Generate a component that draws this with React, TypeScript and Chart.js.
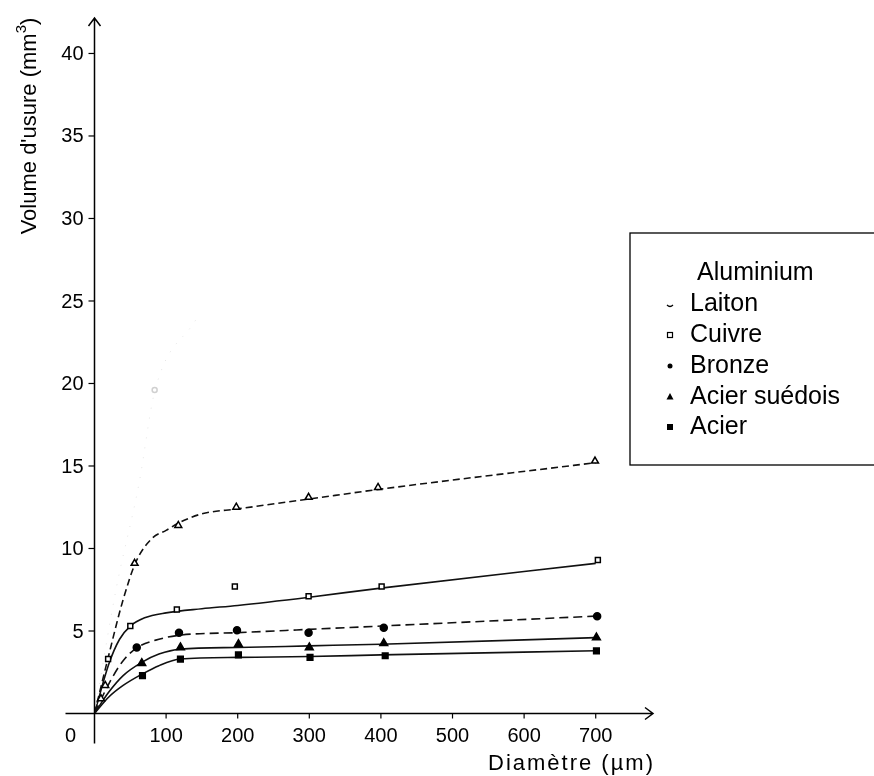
import React, { useEffect, useRef } from "react";
import { Chart, registerables } from "chart.js";

Chart.register(...registerables);

// ---- data ----
const xTickLabels = [100, 200, 300, 400, 500, 600, 700];
const yTickLabels = [5, 10, 15, 20, 25, 30, 35, 40];
const legendNames = ["Aluminium", "Laiton", "Cuivre", "Bronze", "Acier suédois", "Acier"];

// fitted curves
const aluminiumCurveX = [0, 30, 62, 84, 142];
const aluminiumCurveY = [0, 7.5, 13.9, 19.5, 23.9];
const laitonCurveX = [0, 18, 40, 58, 80, 100, 120, 150, 200, 300, 400, 700];
const laitonCurveY = [0, 3.2, 6.9, 9.2, 10.6, 11.1, 11.6, 12.1, 12.4, 13.0, 13.6, 15.2];
const cuivreCurveX = [0, 20, 35, 50, 70, 100, 150, 200, 300, 400, 700];
const cuivreCurveY = [0, 3.0, 4.5, 5.3, 5.8, 6.1, 6.35, 6.55, 7.05, 7.6, 9.1];
const bronzeCurveX = [0, 20, 40, 60, 90, 120, 200, 300, 400, 700];
const bronzeCurveY = [0, 1.8, 3.2, 4.0, 4.5, 4.75, 4.9, 5.1, 5.3, 5.9];
const suedoisCurveX = [0, 20, 40, 66, 90, 120, 200, 300, 400, 700];
const suedoisCurveY = [0, 1.3, 2.3, 3.1, 3.6, 3.9, 4.0, 4.1, 4.2, 4.6];
const acierCurveX = [0, 20, 40, 67, 90, 120, 200, 300, 400, 700];
const acierCurveY = [0, 1.0, 1.7, 2.4, 2.9, 3.3, 3.4, 3.45, 3.55, 3.8];

// measured points
const aluminiumPtX = [84];
const aluminiumPtY = [19.6];
const laitonPtX = [9, 15, 56, 117, 198, 299, 396, 699];
const laitonPtY = [0.9, 1.7, 9.1, 11.4, 12.5, 13.1, 13.7, 15.3];
const cuivrePtX = [19, 50, 115, 196, 299, 401, 703];
const cuivrePtY = [3.3, 5.3, 6.3, 7.7, 7.1, 7.7, 9.3];
const bronzePtX = [59, 118, 199, 299, 404, 702];
const bronzePtY = [4.0, 4.9, 5.05, 4.9, 5.2, 5.9];
const suedoisPtX = [66, 120, 201, 300, 404, 701];
const suedoisPtY = [3.05, 4.0, 4.2, 4.0, 4.25, 4.6];
const acierPtX = [67, 120, 201, 301, 406, 701];
const acierPtY = [2.3, 3.3, 3.55, 3.4, 3.5, 3.8];

const X_MAX = 780;
const Y_MAX = 42.15;

const zip = (xs: number[], ys: number[]) => xs.map((x, i) => ({ x, y: ys[i] }));

const FONT = "'Liberation Sans', Arial, sans-serif";

const axesPlugin = {
  id: "axesPlugin",
  afterDraw(chart: any) {
    const ctx = chart.ctx;
    const xs = chart.scales.x;
    const ys = chart.scales.y;
    const x0 = xs.getPixelForValue(0);
    const y0 = ys.getPixelForValue(0);
    const xEnd = xs.getPixelForValue(X_MAX);
    const yTop = ys.getPixelForValue(Y_MAX);
    ctx.save();
    ctx.strokeStyle = "#000";
    ctx.fillStyle = "#000";
    ctx.lineWidth = 1.5;
    // x axis
    ctx.beginPath();
    ctx.moveTo(x0 - 29, y0);
    ctx.lineTo(xEnd, y0);
    ctx.moveTo(xEnd - 8, y0 - 6);
    ctx.lineTo(xEnd, y0);
    ctx.lineTo(xEnd - 8, y0 + 6);
    ctx.stroke();
    // y axis
    ctx.beginPath();
    ctx.moveTo(x0, y0 + 30);
    ctx.lineTo(x0, yTop);
    ctx.moveTo(x0 - 6, yTop + 8);
    ctx.lineTo(x0, yTop);
    ctx.lineTo(x0 + 6, yTop + 8);
    ctx.stroke();
    // ticks
    ctx.lineWidth = 1.2;
    ctx.font = "20px " + FONT;
    ctx.textBaseline = "middle";
    ctx.textAlign = "right";
    yTickLabels.forEach((v) => {
      const py = ys.getPixelForValue(v);
      ctx.beginPath();
      ctx.moveTo(x0 - 6, py);
      ctx.lineTo(x0, py);
      ctx.stroke();
      ctx.fillText(String(v), x0 - 11, py + 1);
    });
    ctx.textAlign = "center";
    xTickLabels.forEach((v) => {
      const px = xs.getPixelForValue(v);
      ctx.beginPath();
      ctx.moveTo(px, y0);
      ctx.lineTo(px, y0 + 5);
      ctx.stroke();
      ctx.fillText(String(v), px, y0 + 23);
    });
    ctx.fillText("0", x0 - 24, y0 + 23);
    // x title
    ctx.textAlign = "right";
    ctx.font = "22px " + FONT;
    (ctx as any).letterSpacing = "2px";
    ctx.fillText("Diamètre (µm)", xEnd + 2, y0 + 50);
    (ctx as any).letterSpacing = "0px";
    // y title
    ctx.save();
    ctx.translate(30, 126);
    ctx.rotate(-Math.PI / 2);
    ctx.textAlign = "left";
    ctx.font = "22px " + FONT;
    const main = "Volume d'usure (mm";
    const w = ctx.measureText(main).width;
    ctx.font = "15px " + FONT;
    const w3 = ctx.measureText("3").width;
    ctx.font = "22px " + FONT;
    const wc = ctx.measureText(")").width;
    const total = w + w3 + wc;
    let sx = -total / 2;
    ctx.fillText(main, sx, 0);
    sx += w;
    ctx.font = "15px " + FONT;
    ctx.fillText("3", sx, -8);
    sx += w3;
    ctx.font = "22px " + FONT;
    ctx.fillText(")", sx, 0);
    ctx.restore();

    // legend
    const lx = 630, ly = 233, lh = 232;
    ctx.lineWidth = 1.3;
    ctx.strokeRect(lx, ly, 300, lh);
    ctx.font = "25px " + FONT;
    ctx.textAlign = "left";
    const rowY = [273, 304, 335, 366, 397, 427];
    const mx = 670;
    legendNames.forEach((name, i) => {
      ctx.fillText(name, i === 0 ? 697 : 690, rowY[i]);
    });
    // legend markers
    ctx.lineWidth = 1.2;
    // Laiton: small curved mark
    ctx.beginPath();
    ctx.moveTo(mx - 3, rowY[1] + 1);
    ctx.quadraticCurveTo(mx, rowY[1] + 4, mx + 3, rowY[1] + 1);
    ctx.stroke();
    // Cuivre: open square
    ctx.strokeRect(mx - 2.5, rowY[2] - 2.5, 5, 5);
    // Bronze: dot
    ctx.beginPath();
    ctx.arc(mx, rowY[3], 2.5, 0, Math.PI * 2);
    ctx.fill();
    // Acier suédois: triangle
    ctx.beginPath();
    ctx.moveTo(mx, rowY[4] - 4);
    ctx.lineTo(mx + 3.5, rowY[4] + 2.5);
    ctx.lineTo(mx - 3.5, rowY[4] + 2.5);
    ctx.closePath();
    ctx.fill();
    // Acier: square
    ctx.fillRect(mx - 3, rowY[5] - 3, 6, 6);
    ctx.restore();
  },
};

export default function App() {
  const ref = useRef<HTMLCanvasElement | null>(null);
  useEffect(() => {
    document.body.style.margin = "0";
    document.body.style.overflow = "hidden";
    const canvas = ref.current;
    if (!canvas) return;
    const lineDs = (label: string, xs: number[], ys: number[], dash: number[], color = "#111", width = 1.6) => ({
      type: "line" as const,
      label,
      data: zip(xs, ys),
      borderColor: color,
      borderWidth: width,
      borderDash: dash,
      pointRadius: 0,
      fill: false,
      cubicInterpolationMode: "monotone" as const,
      order: 2,
    });
    const ptDs = (label: string, xs: number[], ys: number[], style: string, filled: boolean, r = 4, color = "#000") => ({
      type: "scatter" as const,
      label,
      data: zip(xs, ys),
      pointStyle: style,
      pointRadius: r,
      pointBackgroundColor: filled ? color : "#fff",
      pointBorderColor: color,
      pointBorderWidth: 1.5,
      showLine: false,
      order: 1,
    });
    const chart = new Chart(canvas, {
      type: "scatter",
      data: {
        datasets: [
          lineDs("Aluminium", aluminiumCurveX, aluminiumCurveY, [1, 9], "#e4e4e4", 1),
          lineDs("Laiton", laitonCurveX, laitonCurveY, [7, 4]),
          lineDs("Cuivre", cuivreCurveX, cuivreCurveY, []),
          lineDs("Bronze", bronzeCurveX, bronzeCurveY, [9, 5]),
          lineDs("Acier suédois", suedoisCurveX, suedoisCurveY, []),
          lineDs("Acier", acierCurveX, acierCurveY, []),
          ptDs("Aluminium pts", aluminiumPtX, aluminiumPtY, "circle", false, 2.5, "#d0d0d0"),
          ptDs("Laiton pts", laitonPtX, laitonPtY, "triangle", false, 4),
          ptDs("Cuivre pts", cuivrePtX, cuivrePtY, "rect", false, 3.5),
          ptDs("Bronze pts", bronzePtX, bronzePtY, "circle", true, 3.5),
          ptDs("Acier suédois pts", suedoisPtX, suedoisPtY, "triangle", true, 4.5),
          ptDs("Acier pts", acierPtX, acierPtY, "rect", true, 4),
        ] as any,
      },
      options: {
        animation: false,
        responsive: false,
        maintainAspectRatio: false,
        devicePixelRatio: 1,
        layout: { padding: { left: 94.5, right: 874 - 653, top: 18, bottom: 776 - 713.5 } },
        plugins: { legend: { display: false }, tooltip: { enabled: false } },
        scales: {
          x: { type: "linear", min: 0, max: X_MAX, display: false },
          y: { type: "linear", min: 0, max: Y_MAX, display: false },
        },
      },
      plugins: [axesPlugin],
    });
    return () => chart.destroy();
  }, []);
  return <canvas ref={ref} width={874} height={776} style={{ display: "block" }} />;
}
